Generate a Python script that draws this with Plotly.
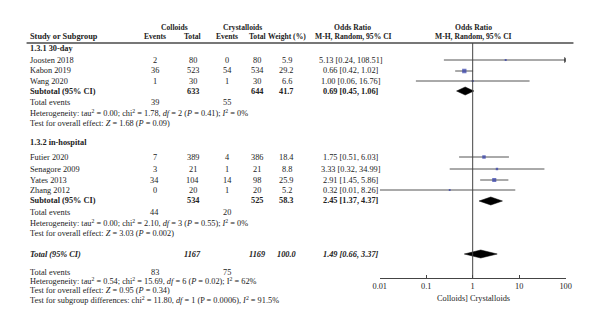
import plotly.graph_objects as go

# ---- data ----
studies = ["Joosten 2018", "Kabon 2019", "Wang 2020",
           "Futier 2020", "Senagore 2009", "Yates 2013", "Zhang 2012"]
col_events = [2, 36, 1, 7, 3, 34, 0]
col_total = [80, 523, 30, 389, 21, 104, 20]
cry_events = [0, 54, 1, 4, 1, 14, 1]
cry_total = [80, 534, 30, 386, 21, 98, 20]
weight = [5.9, 29.2, 6.6, 18.4, 8.8, 25.9, 5.2]
or_est = [5.13, 0.66, 1.00, 1.75, 3.33, 2.91, 0.32]
or_lo = [0.24, 0.42, 0.06, 0.51, 0.32, 1.45, 0.01]
or_hi = [108.51, 1.02, 16.76, 6.03, 34.99, 5.86, 8.26]

sub_names = ["Subtotal (95% CI)", "Subtotal (95% CI)", "Total (95% CI)"]
sub_col_total = [633, 534, 1167]
sub_cry_total = [644, 525, 1169]
sub_weight = [41.7, 58.3, 100.0]
sub_est = [0.69, 2.45, 1.49]
sub_lo = [0.45, 1.37, 0.66]
sub_hi = [1.06, 4.37, 3.37]
sub_col_events = [39, 44, 83]
sub_cry_events = [55, 20, 75]

group_titles = ["1.3.1 30-day", "1.3.2 in-hospital"]
heterogeneity = [
    "Heterogeneity: tau<sup>2</sup> = 0.00; chi<sup>2</sup> = 1.78, <i>df</i> = 2 (<i>P</i> = 0.41); <i>I</i><sup>2</sup> = 0%",
    "Heterogeneity: tau<sup>2</sup> = 0.00; chi<sup>2</sup> = 2.10, <i>df</i> = 3 (<i>P</i> = 0.55); <i>I</i><sup>2</sup> = 0%",
    "Heterogeneity: tau<sup>2</sup> = 0.54; chi<sup>2</sup> = 15.69, <i>df</i> = 6 (<i>P</i> = 0.02); I<sup>2</sup> = 62%",
]
overall_tests = [
    "Test for overall effect: <i>Z</i> = 1.68 (<i>P</i> = 0.09)",
    "Test for overall effect: <i>Z</i> = 3.03 (<i>P</i> = 0.002)",
    "Test for overall effect: <i>Z</i> = 0.95 (<i>P</i> = 0.34)",
]
subgroup_test = ("Test for subgroup differences: chi<sup>2</sup> = 11.80, <i>df</i> = 1 "
                 "(P = 0.0006), <i>I</i><sup>2</sup> = 91.5%")

tick_vals = [0.01, 0.1, 1, 10, 100]
tick_text = ["0.01", "0.1", "1", "10", "100"]
axis_title = "Colloids] Crystalloids"

# ---- layout (pixel rows / columns) ----
W, H = 600, 329
AXIS_Y = 278
FONT = "Liberation Serif"
FS = 8.3
FS_HEAD = 7.6
study_rows = [60, 71, 81, 157, 169, 180, 190]
title_rows = [48, 142]
sub_rows = [91, 201, 254]
events_rows = [103, 212, 272]
het_rows = [113, 223, 281]
test_rows = [123, 233, 290]
subtest_row = 300

X_NAME = 21
X_CE, X_CT, X_XE, X_XT, X_W, X_OR = 151, 190, 225, 256, 286, 352
X_PLOT0, X_PLOT1 = 381, 571
X_OR_HEAD = 477

annotations = []


def txt(x, y, s, anchor="center", bold=False, italic=False, size=FS):
    if bold:
        s = "<b>" + s + "</b>"
    if italic:
        s = "<i>" + s + "</i>"
    annotations.append(dict(
        x=x / W, y=1 - y / H, xref="paper", yref="paper",
        text=s, showarrow=False, xanchor=anchor, yanchor="middle",
        font=dict(family=FONT, size=size, color="#222"),
    ))


# headers
txt(171, 27, "Colloids", bold=True, size=FS_HEAD)
txt(241, 27, "Crystalloids", bold=True, size=FS_HEAD)
txt(X_OR + 1, 27, "Odds Ratio", bold=True, size=FS_HEAD)
txt(X_OR_HEAD, 27, "Odds Ratio", bold=True, size=FS_HEAD)
txt(X_NAME, 37, "Study or Subgroup", anchor="left", bold=True, size=FS)
for x, s in [(X_CE, "Events"), (X_CT, "Total"), (X_XE, "Events"),
             (X_XT, "Total"), (X_W, "Weight (%)"),
             (X_OR + 2, "M-H, Random, 95% CI"), (X_OR_HEAD, "M-H, Random, 95% CI")]:
    txt(x, 37, s, bold=True, size=FS_HEAD)

# group titles
for y, s in zip(title_rows, group_titles):
    txt(X_NAME, y, s, anchor="left", bold=True)

# study rows
for i, y in enumerate(study_rows):
    txt(X_NAME, y, studies[i], anchor="left")
    txt(X_CE, y, str(col_events[i]))
    txt(X_CT, y, str(col_total[i]))
    txt(X_XE, y, str(cry_events[i]))
    txt(X_XT, y, str(cry_total[i]))
    txt(X_W, y, f"{weight[i]:.1f}")
    txt(X_OR, y, f"{or_est[i]:.2f} [{or_lo[i]:.2f}, {or_hi[i]:.2f}]")

# subtotal / total rows
for i, y in enumerate(sub_rows):
    is_total = i == 2
    txt(X_NAME, y, sub_names[i], anchor="left", bold=True, italic=is_total)
    txt(X_CT, y, str(sub_col_total[i]), bold=True, italic=is_total)
    txt(X_XT, y, str(sub_cry_total[i]), bold=True, italic=is_total)
    txt(X_W, y, f"{sub_weight[i]:.1f}", bold=True, italic=is_total)
    txt(X_OR, y, f"{sub_est[i]:.2f} [{sub_lo[i]:.2f}, {sub_hi[i]:.2f}]",
        bold=True, italic=is_total)

for i in range(3):
    txt(X_NAME, events_rows[i], "Total events", anchor="left")
    txt(X_CE, events_rows[i], str(sub_col_events[i]))
    txt(X_XE, events_rows[i], str(sub_cry_events[i]))
    txt(X_NAME, het_rows[i], heterogeneity[i], anchor="left")
    txt(X_NAME, test_rows[i], overall_tests[i], anchor="left")
txt(X_NAME, subtest_row, subgroup_test, anchor="left")

# axis title under the forest panel
txt(X_OR_HEAD, 298, axis_title)

fig = go.Figure()

# confidence interval lines (clipped to the axis range)
lo_c, hi_c = min(tick_vals), max(tick_vals)
for i, y in enumerate(study_rows):
    x0 = max(or_lo[i], lo_c)
    x1 = min(or_hi[i], hi_c)
    fig.add_trace(go.Scatter(
        x=[x0, x1], y=[y, y], mode="lines",
        line=dict(color="#555555", width=1), hoverinfo="skip", showlegend=False))
    if or_hi[i] > hi_c:
        fig.add_trace(go.Scatter(
            x=[hi_c], y=[y], mode="markers",
            marker=dict(symbol="triangle-right", size=5, color="#111111"),
            hoverinfo="skip", showlegend=False))

# study point estimates, square size by weight
fig.add_trace(go.Scatter(
    x=or_est, y=study_rows, mode="markers",
    marker=dict(symbol="square", color="#2f3aa8",
                size=[max(1.8, (w ** 0.5) * 0.8) for w in weight],
                line=dict(width=0)),
    hoverinfo="skip", showlegend=False))

# pooled estimates as diamonds
for i, y in enumerate(sub_rows):
    h = 4
    fig.add_trace(go.Scatter(
        x=[sub_lo[i], sub_est[i], sub_hi[i], sub_est[i], sub_lo[i]],
        y=[y, y - h, y, y + h, y],
        mode="lines", fill="toself", fillcolor="black",
        line=dict(color="black", width=0.5),
        hoverinfo="skip", showlegend=False))

shapes = [
    # header rule
    dict(type="line", xref="paper", yref="paper",
         x0=20 / W, x1=579 / W, y0=1 - 43 / H, y1=1 - 43 / H,
         line=dict(color="#777777", width=2)),
    # line of no effect
    dict(type="line", xref="x", yref="y", x0=1, x1=1, y0=43, y1=AXIS_Y,
         line=dict(color="#444444", width=1)),
]

fig.update_layout(
    width=W, height=H,
    margin=dict(l=0, r=0, t=0, b=0),
    paper_bgcolor="white", plot_bgcolor="white",
    annotations=annotations, shapes=shapes,
    xaxis=dict(
        type="log", range=[-2, 2],
        domain=[X_PLOT0 / W, X_PLOT1 / W],
        tickvals=tick_vals, ticktext=tick_text,
        ticks="inside", ticklen=3, tickcolor="#444444",
        showline=True, linecolor="#444444", linewidth=1,
        showgrid=False, zeroline=False,
        tickfont=dict(family=FONT, size=FS, color="#222"),
    ),
    yaxis=dict(
        range=[AXIS_Y, 0], domain=[1 - AXIS_Y / H, 1],
        visible=False, showgrid=False, zeroline=False,
    ),
)

fig.write_html("out.html")
